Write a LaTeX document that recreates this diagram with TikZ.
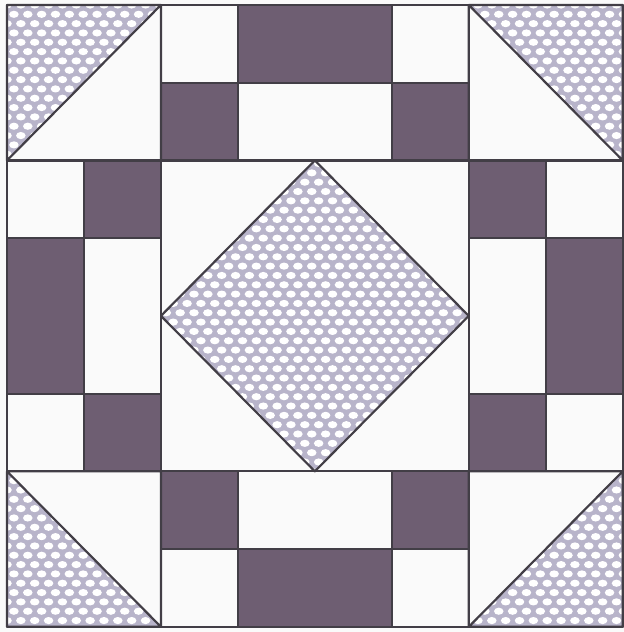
\documentclass[tikz,border=0pt]{standalone}
\usepackage{tikz}
\usetikzlibrary{calc}
\definecolor{fabricdark}{RGB}{110,94,114}
\definecolor{latticegrey}{RGB}{184,180,202}
\definecolor{seamgrey}{RGB}{66,62,70}
\definecolor{paperwhite}{RGB}{250,250,250}
\tikzset{
  patch/.style={
    draw=seamgrey,
    line width=0.8pt,
    line join=round
  },
  dark/.style={
    patch,
    fill=fabricdark
  },
  hole/.style={
    fill=white
  }
}

\begin{document}
\begin{tikzpicture}[x=1cm,y=-1.01cm]
\useasboundingbox[fill=paperwhite] (-0.091,-0.064) rectangle (8.013,8.067);
% white ground of the block
\fill[paperwhite] (0,0) rectangle (8,8);
% lattice fabric: corner triangles and centre diamond
\begin{scope}
  \clip (0,0) -- (2,0) -- (0,2) -- cycle
        (6,0) -- (8,0) -- (8,2) -- cycle
        (0,6) -- (0,8) -- (2,8) -- cycle
        (8,6) -- (8,8) -- (6,8) -- cycle
        (4,2) -- (6,4) -- (4,6) -- (2,4) -- cycle;
  \fill[latticegrey] (0,0) rectangle (8,8);
  \foreach \j in {0,...,68}{
    \pgfmathsetmacro{\shift}{mod(\j,2)*0.09}
    \foreach \i in {0,...,45}{
      \fill[hole] ({\i*0.18+\shift},{\j*0.12}) ellipse (0.062 and 0.046);
    }
  }
\end{scope}
% dark squares and bars
\foreach \a/\b/\c/\d in {3/0/5/1, 2/1/3/2, 5/1/6/2,
                         2/6/3/7, 5/6/6/7, 3/7/5/8,
                         1/2/2/3, 0/3/1/5, 1/5/2/6,
                         6/2/7/3, 7/3/8/5, 6/5/7/6}{
  \draw[dark] (\a,\b) rectangle (\c,\d);
}
% seams of the light pieces
\foreach \a/\b/\c/\d in {2/0/3/1, 5/0/6/1, 3/1/5/2,
                         2/7/3/8, 5/7/6/8, 3/6/5/7,
                         0/2/1/3, 1/3/2/5, 0/5/1/6,
                         7/2/8/3, 6/3/7/5, 7/5/8/6}{
  \draw[patch] (\a,\b) rectangle (\c,\d);
}
\draw[patch] (0,0) rectangle (2,2) (2,0) -- (0,2);
\draw[patch] (6,0) rectangle (8,2) (6,0) -- (8,2);
\draw[patch] (0,6) rectangle (2,8) (0,6) -- (2,8);
\draw[patch] (6,6) rectangle (8,8) (8,6) -- (6,8);
\draw[patch] (2,2) rectangle (6,6);
\draw[patch] (4,2) -- (6,4) -- (4,6) -- (2,4) -- cycle;
\draw[patch] (0,0) rectangle (8,8);
\end{tikzpicture}
\end{document}
